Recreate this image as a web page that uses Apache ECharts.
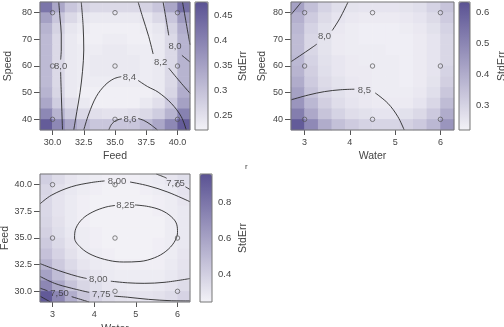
<!DOCTYPE html>
<html>
<head>
<meta charset="utf-8">
<script src="https://cdn.jsdelivr.net/npm/echarts@6/dist/echarts.min.js"></script>
</head>
<body style="margin:0">
<div id="container" style="width:504px;height:327px;"></div>
<script>
// tick values
var feedTicks = [30, 32.5, 35, 37.5, 40];
var speedTicks = [40, 50, 60, 70, 80];
var waterTicks = [3, 4, 5, 6];
var err1Ticks = [0.25, 0.3, 0.35, 0.4, 0.45];
var err2Ticks = [0.3, 0.4, 0.5, 0.6];
var err3Ticks = [0.4, 0.6, 0.8];

// design points
var feedSpeedPts = [[30,40],[35,40],[40,40],[30,60],[35,60],[40,60],[30,80],[35,80],[40,80]];
var waterSpeedPts = [[3,40],[4.5,40],[6,40],[3,60],[4.5,60],[6,60],[3,80],[4.5,80],[6,80]];
var waterFeedPts = [[4.5,30],[6,30],[3,35],[4.5,35],[6,35],[3,40],[4.5,40],[6,40]];

var err1 = [
  [0.42,0.34,0.29,0.27,0.26,0.26,0.26,0.26,0.27,0.29,0.34,0.43],
  [0.35,0.29,0.26,0.24,0.235,0.235,0.235,0.235,0.24,0.26,0.29,0.36],
  [0.32,0.27,0.24,0.23,0.225,0.225,0.225,0.225,0.23,0.24,0.27,0.33],
  [0.31,0.26,0.235,0.225,0.225,0.23,0.23,0.225,0.225,0.235,0.26,0.32],
  [0.31,0.26,0.235,0.23,0.23,0.235,0.235,0.23,0.23,0.235,0.26,0.32],
  [0.31,0.26,0.235,0.23,0.235,0.235,0.235,0.235,0.23,0.235,0.26,0.32],
  [0.31,0.26,0.235,0.23,0.235,0.235,0.235,0.235,0.23,0.235,0.26,0.32],
  [0.31,0.26,0.235,0.23,0.23,0.23,0.23,0.23,0.23,0.235,0.26,0.32],
  [0.32,0.265,0.235,0.225,0.225,0.225,0.225,0.225,0.225,0.235,0.265,0.33],
  [0.34,0.28,0.25,0.235,0.225,0.225,0.225,0.225,0.235,0.25,0.285,0.35],
  [0.39,0.32,0.28,0.26,0.25,0.245,0.245,0.25,0.26,0.28,0.32,0.40],
  [0.46,0.39,0.34,0.31,0.29,0.29,0.29,0.29,0.31,0.34,0.39,0.46]
];
var err2 = [
  [0.43,0.35,0.30,0.27,0.26,0.255,0.255,0.255,0.26,0.27,0.30,0.34],
  [0.39,0.32,0.28,0.255,0.245,0.24,0.24,0.24,0.245,0.255,0.28,0.32],
  [0.37,0.30,0.265,0.245,0.235,0.23,0.23,0.23,0.235,0.245,0.265,0.30],
  [0.36,0.29,0.26,0.24,0.235,0.23,0.23,0.23,0.23,0.24,0.255,0.29],
  [0.36,0.29,0.26,0.24,0.235,0.235,0.235,0.23,0.23,0.24,0.255,0.29],
  [0.37,0.30,0.265,0.25,0.24,0.235,0.235,0.235,0.23,0.24,0.255,0.29],
  [0.38,0.31,0.27,0.25,0.24,0.24,0.235,0.235,0.23,0.24,0.255,0.30],
  [0.40,0.32,0.28,0.26,0.245,0.24,0.235,0.235,0.23,0.24,0.26,0.31],
  [0.43,0.34,0.29,0.265,0.25,0.245,0.235,0.235,0.235,0.245,0.27,0.33],
  [0.46,0.37,0.31,0.275,0.255,0.245,0.24,0.24,0.24,0.255,0.29,0.36],
  [0.52,0.41,0.34,0.30,0.275,0.265,0.255,0.255,0.265,0.285,0.325,0.40],
  [0.61,0.49,0.40,0.35,0.32,0.30,0.295,0.295,0.305,0.325,0.37,0.46]
];
var err3 = [
  [0.40,0.34,0.30,0.28,0.27,0.26,0.26,0.26,0.27,0.28,0.30,0.33],
  [0.37,0.32,0.29,0.27,0.26,0.25,0.25,0.25,0.26,0.27,0.28,0.31],
  [0.36,0.31,0.28,0.26,0.25,0.25,0.25,0.25,0.25,0.26,0.27,0.30],
  [0.36,0.31,0.28,0.26,0.25,0.25,0.25,0.25,0.25,0.26,0.27,0.29],
  [0.37,0.32,0.28,0.26,0.25,0.25,0.25,0.25,0.25,0.25,0.27,0.29],
  [0.39,0.33,0.29,0.27,0.26,0.25,0.25,0.25,0.25,0.25,0.27,0.29],
  [0.42,0.35,0.30,0.27,0.26,0.25,0.25,0.25,0.25,0.26,0.27,0.29],
  [0.46,0.38,0.32,0.28,0.27,0.26,0.25,0.25,0.25,0.26,0.27,0.30],
  [0.52,0.42,0.35,0.30,0.28,0.27,0.26,0.26,0.26,0.26,0.28,0.31],
  [0.60,0.48,0.39,0.33,0.30,0.28,0.27,0.27,0.27,0.27,0.29,0.32],
  [0.72,0.57,0.45,0.37,0.33,0.30,0.29,0.28,0.28,0.29,0.31,0.34],
  [0.92,0.72,0.55,0.44,0.38,0.34,0.32,0.31,0.31,0.32,0.34,0.38]
];

// contour lines: [label, label position, segments]
var cont1 = [
  ['8,0', [30.65,60], [[[30.5,84],[30.6,78],[30.7,72],[30.7,66],[30.65,62.4]], [[30.65,57.8],[30.7,50],[30.75,43],[30.8,36]]]],
  ['', null, [[[32.3,84],[32.45,75],[32.5,66],[32.4,58],[32.2,50],[31.95,43],[31.7,36]]]],
  ['8,4', [36.15,55.7], [[[32.5,36],[32.9,42],[33.5,48.5],[34.2,52.8],[34.9,55.2],[35.5,56.0]], [[36.85,54.6],[37.6,52.3],[38.45,50.2],[39.5,46],[40.3,41],[40.7,36]]]],
  ['8,6', [36.2,40.1], [[[34.5,36],[34.75,38.3],[35.1,39.6],[35.55,40.2]], [[36.85,40.3],[37.3,39.6],[37.8,38.2],[38.4,36]]]],
  ['8,2', [38.65,61.5], [[[36.85,84],[37.2,78.5],[37.7,71],[38.05,64.5]], [[39.3,59.2],[40.2,54.1],[41,49.8]]]],
  ['8,0', [39.8,67.5], [[[38.85,84],[39.1,77.2],[39.3,71.5]], [[40.35,64],[41,61.5]]]],
  ['', null, [[[40.4,84],[40.7,76],[41,68]]]]
];
var cont2 = [
  ['', null, [[[2.7,79.3],[2.8,81.3],[2.93,84]]]],
  ['8,0', [3.44,71], [[[2.7,61.6],[2.92,64.1],[3.12,66.4],[3.27,68.2]], [[3.61,73.3],[3.78,77.9],[3.96,84]]]],
  ['8,5', [4.32,50.8], [[[2.7,47.3],[3.08,49.1],[3.44,50.4],[3.8,51.1],[4.1,51.3]], [[4.56,49.9],[4.84,46],[5.06,41],[5.2,36]]]]
];
var cont3 = [
  ['8,25', [4.75,38.1], [[[4.98,38.1],[5.3,37.95],[5.61,37.6],[5.85,37.0],[5.98,36.3],[6.0,35.5],[5.92,34.6],[5.72,33.75],[5.45,33.15],[5.1,32.8],[4.7,32.75],[4.35,32.9],[3.95,33.4],[3.68,34.1],[3.53,35.0],[3.56,35.9],[3.72,36.8],[3.97,37.45],[4.28,37.9],[4.5,38.05]]]],
  ['8,00', [4.55,40.3], [[[2.7,38.2],[2.97,39.0],[3.45,39.8],[3.93,40.2],[4.25,40.35]], [[4.86,40.25],[5.29,39.9],[5.77,39.3],[6.3,38.4]]]],
  ['7,75', [5.95,40.15], [[[5.49,41],[5.69,40.7],[5.74,40.6]], [[6.19,39.8],[6.3,39.55]]]],
  ['8,00', [4.1,31.1], [[[2.7,32.6],[3.0,32.15],[3.3,31.75],[3.6,31.4],[3.82,31.2]], [[4.4,30.95],[4.8,30.8],[5.2,30.75],[5.7,30.85],[6.3,31.2]]]],
  ['7,75', [4.17,29.7], [[[2.7,31.4],[3.05,30.75],[3.45,30.3],[3.88,29.9]], [[4.48,29.55],[4.8,29.45],[5.3,29.25],[5.85,29.12],[6.3,29.1]]]],
  ['7,50', [3.17,29.8], [[[2.7,30.3],[2.88,30.05]], [[3.46,29.5],[3.77,29.13],[3.88,29.0]]]],
  ['', null, [[[2.7,29.55],[2.95,29.0]]]]
];

var panels = [
  {box:[40,2,150,128], cb:[195,2,13,128], x:[29,41], y:[36,84], xTicks:feedTicks, yTicks:speedTicks, xDec:1, yDec:0,
   xName:'Feed', xGap:21, yName:'Speed', yGap:26, cbRange:[0.22,0.476], cbTicks:err1Ticks, cbGap:30, err:err1, pts:feedSpeedPts, cont:cont1},
  {box:[291,2,163,128], cb:[459,2,11,128], x:[2.7,6.3], y:[36,84], xTicks:waterTicks, yTicks:speedTicks, xDec:0, yDec:0,
   xName:'Water', xGap:21, yName:'Speed', yGap:23, cbRange:[0.22,0.633], cbTicks:err2Ticks, cbGap:27, err:err2, pts:waterSpeedPts, cont:cont2},
  {box:[40,174,150,128], cb:[200,174,12,128], x:[2.7,6.3], y:[29,41], xTicks:waterTicks, yTicks:feedTicks, xDec:0, yDec:1,
   xName:'Water', xGap:22, yName:'Feed', yGap:28, cbRange:[0.244,0.955], cbTicks:err3Ticks, cbGap:26, err:err3, pts:waterFeedPts, cont:cont3}
];

var txt = '#444';
var option = {
  animation: false,
  textStyle: {fontFamily: 'Liberation Sans'},
  grid: [], xAxis: [], yAxis: [], series: [], visualMap: [],
  graphic: [{type:'text', left:245, top:163, style:{text:'r', fontSize:8, fill:txt}}]
};

function idx(n) { var a = []; for (var i = 0; i < n; i++) a.push(i); return a; }

panels.forEach(function (p) {
  var b = p.box, gi = option.grid.length;
  // heatmap grid (category axes, hidden)
  option.grid.push({left:b[0], top:b[1], width:b[2], height:b[3], outerBoundsMode:'none'});
  option.xAxis.push({type:'category', gridIndex:gi, data:idx(p.err[0].length), show:false});
  option.yAxis.push({type:'category', gridIndex:gi, data:idx(p.err.length), inverse:true, show:false});
  var cells = [];
  p.err.forEach(function (row, r) { row.forEach(function (v, c) { cells.push([c, r, v]); }); });
  var hs = option.series.length;
  option.series.push({type:'heatmap', xAxisIndex:gi, yAxisIndex:gi, data:cells, silent:true});
  option.visualMap.push({
    type:'continuous', seriesIndex:hs, dimension:2, min:p.cbRange[0], max:p.cbRange[1],
    calculable:false, hoverLink:false, orient:'vertical', left:p.cb[0], top:p.cb[1],
    itemWidth:p.cb[2], itemHeight:p.cb[3], padding:0, text:null,
    inRange:{color:['#f3f2f7', '#5a5293']}
  });

  // main grid with value axes
  var mi = gi + 1;
  option.grid.push({left:b[0], top:b[1], width:b[2], height:b[3], outerBoundsMode:'none', show:true, z:5,
    backgroundColor:'transparent', borderColor:'#777', borderWidth:1});
  option.xAxis.push({type:'value', gridIndex:mi, min:p.x[0], max:p.x[1],
    axisLine:{show:false}, splitLine:{show:false},
    axisTick:{show:true, length:5, customValues:p.xTicks, lineStyle:{color:'#555'}},
    axisLabel:{customValues:p.xTicks, fontSize:9, color:txt, margin:8,
      formatter:function (v) { return v.toFixed(p.xDec); }},
    name:p.xName, nameLocation:'middle', nameGap:p.xGap, nameTextStyle:{fontSize:10.5, color:txt}});
  option.yAxis.push({type:'value', gridIndex:mi, min:p.y[0], max:p.y[1],
    axisLine:{show:false}, splitLine:{show:false},
    axisTick:{show:true, length:6, customValues:p.yTicks, lineStyle:{color:'#555'}},
    axisLabel:{customValues:p.yTicks, fontSize:9, color:txt, margin:8,
      formatter:function (v) { return v.toFixed(p.yDec); }},
    name:p.yName, nameLocation:'middle', nameGap:p.yGap, nameTextStyle:{fontSize:10.5, color:txt}});

  p.cont.forEach(function (c) {
    c[2].forEach(function (seg) {
      option.series.push({type:'line', xAxisIndex:mi, yAxisIndex:mi, data:seg, symbol:'none',
        smooth:0.35, silent:true, z:3, lineStyle:{color:'#2a2a2a', width:0.9}});
    });
  });
  var labs = [];
  p.cont.forEach(function (c) { if (c[1]) labs.push([c[1][0], c[1][1], c[0]]); });
  option.series.push({type:'scatter', xAxisIndex:mi, yAxisIndex:mi, data:labs, symbolSize:1, silent:true, z:4,
    itemStyle:{color:'transparent'},
    label:{show:true, position:'inside', fontSize:9.5, color:'#333',
      formatter:function (q) { return q.value[2]; }}});
  option.series.push({type:'scatter', xAxisIndex:mi, yAxisIndex:mi, data:p.pts, symbolSize:4.5, silent:true, z:4,
    itemStyle:{color:'transparent', borderColor:'#555', borderWidth:0.9}});

  // colour bar axis
  var ci = gi + 2;
  option.grid.push({left:p.cb[0], top:p.cb[1], width:p.cb[2], height:p.cb[3], outerBoundsMode:'none', show:true, z:5,
    backgroundColor:'transparent', borderColor:'#777', borderWidth:1});
  option.xAxis.push({type:'value', gridIndex:ci, min:0, max:1, show:false});
  option.yAxis.push({type:'value', gridIndex:ci, position:'right', min:p.cbRange[0], max:p.cbRange[1],
    axisLine:{show:false}, splitLine:{show:false},
    axisTick:{show:true, length:4, customValues:p.cbTicks, lineStyle:{color:'#555'}},
    axisLabel:{customValues:p.cbTicks, fontSize:9.5, color:txt, margin:6},
    name:'StdErr', nameLocation:'middle', nameGap:p.cbGap, nameTextStyle:{fontSize:10.5, color:txt}});
});

var chart = echarts.init(document.getElementById('container'));
chart.setOption(option);
</script>
</body>
</html>
